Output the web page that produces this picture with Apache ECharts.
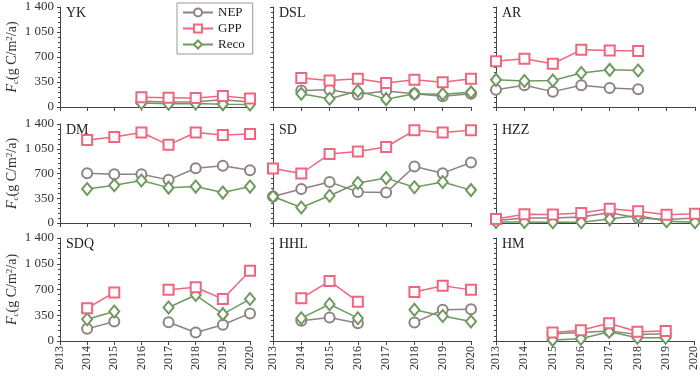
<!DOCTYPE html>
<html><head><meta charset="utf-8">
<script src="https://cdn.jsdelivr.net/npm/echarts@6/dist/echarts.min.js"></script>
<style>html,body{margin:0;padding:0;background:#fff}#c{width:700px;height:379px}</style>
</head><body><div id="c"></div>
<script>
const years = ['2013','2014','2015','2016','2017','2018','2019','2020'];
const yTicks = [0, 350, 700, 1050, 1400];
const seriesNames = ['NEP', 'GPP', 'Reco'];
const sites = ['YK','DSL','AR','DM','SD','HZZ','SDQ','HHL','HM'];

const YK_NEP  = [null,null,null,80,70,75,100,70];
const YK_GPP  = [null,null,null,135,130,125,155,120];
const YK_Reco = [null,null,null,55,45,50,40,35];

const DSL_NEP  = [null,230,240,175,225,185,150,185];
const DSL_GPP  = [null,405,370,395,335,380,345,395];
const DSL_Reco = [null,185,115,225,110,185,180,205];

const AR_NEP  = [240,305,215,305,265,250,null,null];
const AR_GPP  = [640,675,605,800,790,785,null,null];
const AR_Reco = [380,365,370,475,520,510,null,null];

const DM_NEP  = [null,705,690,690,610,775,810,745];
const DM_GPP  = [null,1175,1215,1280,1105,1280,1245,1260];
const DM_Reco = [null,480,535,600,500,515,430,515];

const SD_NEP  = [375,480,580,440,430,800,705,855];
const SD_GPP  = [770,700,975,1010,1075,1310,1280,1310];
const SD_Reco = [375,220,385,565,635,505,580,465];

const HZZ_NEP  = [35,70,70,85,145,70,50,70];
const HZZ_GPP  = [55,125,120,140,200,165,115,130];
const HZZ_Reco = [15,15,10,10,55,105,25,10];

const SDQ_NEP  = [null,165,265,null,255,115,220,375];
const SDQ_GPP  = [null,445,660,null,695,730,570,955];
const SDQ_Reco = [null,295,400,null,455,625,365,570];

const HHL_NEP  = [null,275,320,240,null,250,425,430];
const HHL_GPP  = [null,580,815,535,null,665,750,695];
const HHL_Reco = [null,310,500,310,null,425,340,265];

const HM_NEP  = [null,null,100,115,135,90,100,null];
const HM_GPP  = [null,null,115,145,240,125,135,null];
const HM_Reco = [null,null,15,30,125,45,45,null];

const siteData = {
  YK:[YK_NEP,YK_GPP,YK_Reco], DSL:[DSL_NEP,DSL_GPP,DSL_Reco], AR:[AR_NEP,AR_GPP,AR_Reco],
  DM:[DM_NEP,DM_GPP,DM_Reco], SD:[SD_NEP,SD_GPP,SD_Reco], HZZ:[HZZ_NEP,HZZ_GPP,HZZ_Reco],
  SDQ:[SDQ_NEP,SDQ_GPP,SDQ_Reco], HHL:[HHL_NEP,HHL_GPP,HHL_Reco], HM:[HM_NEP,HM_GPP,HM_Reco]
};

const colors = ['#8f8282', '#f0667f', '#6f9a5f'];
const symbols = ['emptyCircle', 'emptyRect', 'emptyDiamond'];
const symSizes = [10, 10, [10, 12]];
const FONT = 'Liberation Serif';
const axisColor = '#444';

const colLeft = [60, 273, 496], colW = [190, 198, 199];
const rowTop = [7, 124, 238], rowH = [100, 99, 103];

const grid = [], xAxis = [], yAxis = [], series = [], title = [];
sites.forEach((s, i) => {
  const r = Math.floor(i / 3), c = i % 3;
  grid.push({left: colLeft[c], top: rowTop[r], width: colW[c], height: rowH[r]});
  xAxis.push({
    type: 'category', gridIndex: i, data: years, boundaryGap: false,
    axisLine: {lineStyle: {color: axisColor, width: 1}},
    axisTick: {show: true, length: 4, interval: 0, lineStyle: {color: axisColor}},
    axisLabel: {show: r === 2, rotate: 90, interval: 0, fontFamily: FONT, fontSize: 12, color: '#333', margin: 5},
    splitLine: {show: false}
  });
  yAxis.push({
    type: 'value', gridIndex: i, min: yTicks[0], max: yTicks[yTicks.length - 1], interval: yTicks[1] - yTicks[0],
    axisLine: {show: true, lineStyle: {color: axisColor, width: 1}},
    axisTick: {show: true, length: 3, lineStyle: {color: axisColor}},
    minorTick: {show: true, splitNumber: 5, length: 2, lineStyle: {color: axisColor}},
    splitLine: {show: false}, minorSplitLine: {show: false},
    axisLabel: {show: c === 0, fontFamily: FONT, fontSize: 13, color: '#333', margin: 6,
      formatter: v => String(v).replace(/\B(?=(\d{3})+(?!\d))/g, ' ')},
    name: c === 0 ? '{f|F}{s|c}{n|(g C/m}{p|2}{n|/a)}' : '',
    nameLocation: 'middle', nameGap: 40, nameRotate: 90,
    nameTextStyle: {
      fontFamily: FONT, fontSize: 14, color: '#333',
      rich: {
        f: {fontFamily: FONT, fontStyle: 'italic', fontSize: 14, color: '#333'},
        s: {fontFamily: FONT, fontStyle: 'italic', fontSize: 9, color: '#333', verticalAlign: 'bottom', padding: [6, 0, 0, 0]},
        n: {fontFamily: FONT, fontSize: 14, color: '#333'},
        p: {fontFamily: FONT, fontSize: 9, color: '#333', verticalAlign: 'top', padding: [0, 0, 6, 0]}
      }
    }
  });
  title.push({
    text: s, left: colLeft[c] + 6, top: rowTop[r] - 1, padding: 0,
    textStyle: {fontFamily: FONT, fontSize: 14, fontWeight: 'normal', color: '#222'}
  });
  siteData[s].forEach((arr, k) => {
    series.push({
      name: seriesNames[k], type: 'line', xAxisIndex: i, yAxisIndex: i, data: arr,
      symbol: symbols[k], symbolSize: symSizes[k], connectNulls: false,
      lineStyle: {color: colors[k], width: 1.5},
      itemStyle: {color: colors[k], borderColor: colors[k], borderWidth: 1.5},
      z: 2 + (k === 1 ? 1 : 0)
    });
  });
});

const chart = echarts.init(document.getElementById('c'), null, {renderer: 'canvas'});
chart.setOption({
  animation: false,
  backgroundColor: '#fff',
  title, grid, xAxis, yAxis, series,
  legend: {
    data: seriesNames, orient: 'vertical', left: 177, top: 3,
    borderColor: '#999', borderWidth: 1, backgroundColor: '#fff',
    padding: [3, 8, 3, 5], itemWidth: 30, itemHeight: 10, itemGap: 3,
    textStyle: {fontFamily: FONT, fontSize: 13, color: '#222'}
  }
});
</script>
</body></html>
